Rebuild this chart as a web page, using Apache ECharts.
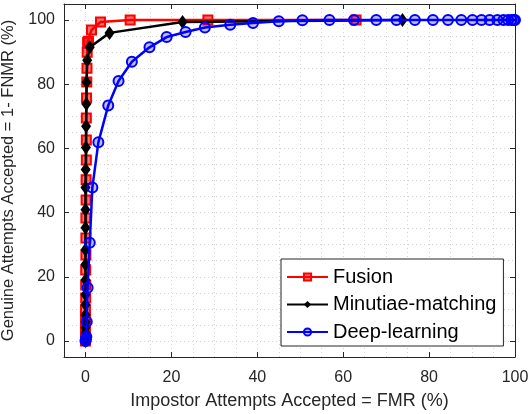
<!DOCTYPE html>
<html>
<head>
<meta charset="utf-8">
<script src="https://cdn.jsdelivr.net/npm/echarts@6/dist/echarts.min.js"></script>
<style>
  html, body { margin: 0; padding: 0; background: #fff; }
  #chart { width: 530px; height: 414px; }
</style>
</head>
<body>
<div id="chart"></div>
<script>
// data (FMR %, 1-FNMR %)
var fusionX = [0, 0, 0, 0, 0, 0.05, 0.05, 0.05, 0.1, 0.1, 0.1, 0.15, 0.15, 0.2, 0.2, 0.2, 0.25, 0.3, 0.35, 0.4, 0.5, 0.7, 1.4, 3.5, 10.4, 28.5, 63];
var fusionY = [0, 1.9, 4, 6.5, 9.7, 13.4, 17.4, 22.1, 26.8, 32.1, 38.3, 43.9, 50.2, 56.4, 62.6, 69.5, 75.7, 80.7, 85, 90, 93.1, 93.4, 96.9, 99.4, 100, 100, 100];

var minutiaeX = [0, 0, 0, 0, 0, 0, 0, 0, 0, 0, 0, 0, 0, 0, 0.05, 0.1, 0.15, 0.2, 0.25, 0.4, 1, 5.6, 22.6, 73.8];
var minutiaeY = [0, 1.3, 2.5, 4.1, 5.9, 8.1, 11.3, 14.4, 19, 23.8, 28.4, 35.3, 40.9, 47.8, 53.4, 60.3, 66.9, 73.8, 80.6, 87.5, 91.5, 96, 99.4, 100];

var deepX = [0, 0.1, 0.2, 0.3, 0.5, 1, 1.6, 3, 5.3, 7.7, 10.8, 14.9, 18.9, 23.3, 27.8, 33.7, 39, 45, 50.5, 56.8, 62.5, 67.7, 72.4, 76.7, 80.9, 84.4, 87.5, 90.1, 92.2, 94.1, 95.9, 97.3, 98.4, 99.2, 99.7, 100];
var deepY = [0, 0.5, 1.3, 6, 16.6, 30.6, 47.8, 61.9, 73.4, 81, 87, 91.5, 94.7, 96.3, 97.7, 98.5, 99.1, 99.6, 99.9, 100, 100, 100, 100, 100, 100, 100, 100, 100, 100, 100, 100, 100, 100, 100, 100, 100];

var xTicks = [0, 20, 40, 60, 80, 100];
var yTicks = [0, 20, 40, 60, 80, 100];

function pairs(xs, ys) {
  return xs.map(function (x, i) { return [x, ys[i]]; });
}

var font = "'Liberation Sans', Arial, Helvetica, sans-serif";
var axisColor = '#262626';
var xRange = { type: 'value', min: -5, max: 100, interval: 5 };
var yRange = { type: 'value', min: -5, max: 105, interval: 5 };

// box axis (ticks only at the labelled values, no grid)
function boxAxis(range, pos, ticks, extra) {
  return Object.assign({}, range, {
    position: pos,
    axisLine: { show: true, onZero: false, lineStyle: { color: axisColor, width: 1 } },
    axisTick: { show: true, inside: true, length: 5, customValues: ticks, lineStyle: { color: axisColor } },
    axisLabel: { show: false },
    splitLine: { show: false }
  }, extra || {});
}

// grid-only axis (dotted lines every 5)
function gridAxis(range, pos) {
  return Object.assign({}, range, {
    position: pos,
    axisLine: { show: false },
    axisTick: { show: false },
    axisLabel: { show: false },
    splitLine: { show: true, lineStyle: { color: '#d2d2d2', type: [1, 3], width: 1 } }
  });
}

var chart = echarts.init(document.getElementById('chart'));

chart.setOption({
  animation: false,
  backgroundColor: '#fff',
  grid: { left: 64, top: 4, width: 451, height: 353, outerBoundsMode: 'none', containLabel: false },
  xAxis: [
    boxAxis(xRange, 'bottom', xTicks, {
      name: 'Impostor Attempts Accepted = FMR (%)',
      nameLocation: 'middle', nameGap: 35,
      nameTextStyle: { fontFamily: font, fontSize: 18, color: axisColor },
      axisLabel: { show: true, customValues: xTicks, fontFamily: font, fontSize: 16, color: axisColor, margin: 13 }
    }),
    boxAxis(xRange, 'top', xTicks),
    gridAxis(xRange, 'bottom')
  ],
  yAxis: [
    boxAxis(yRange, 'left', yTicks, {
      name: 'Genuine Attempts Accepted = 1- FNMR (%)',
      nameLocation: 'middle', nameGap: 42,
      nameTextStyle: { fontFamily: font, fontSize: 16.5, color: axisColor },
      axisLabel: { show: true, customValues: yTicks, fontFamily: font, fontSize: 16, color: axisColor, margin: 9 }
    }),
    boxAxis(yRange, 'right', yTicks),
    gridAxis(yRange, 'left')
  ],
  legend: {
    orient: 'vertical',
    left: 281, top: 259,
    backgroundColor: '#fff',
    borderColor: axisColor, borderWidth: 1,
    padding: [8, 7, 4, 5],
    itemWidth: 41, itemHeight: 9, itemGap: 7.5,
    textStyle: { fontFamily: font, fontSize: 20, color: '#000', lineHeight: 20 },
    data: ['Fusion', 'Minutiae-matching', 'Deep-learning']
  },
  series: [{
    name: 'Fusion', type: 'line',
    data: pairs(fusionX, fusionY),
    symbol: 'rect', symbolSize: 9,
    lineStyle: { color: '#ff0000', width: 2.5 },
    itemStyle: { color: 'rgba(255,0,0,0.55)', borderColor: '#ff0000', borderWidth: 2 },
    z: 2
  }, {
    name: 'Minutiae-matching', type: 'line',
    data: pairs(minutiaeX, minutiaeY),
    symbol: 'diamond', symbolSize: [10, 14],
    lineStyle: { color: '#000', width: 2.5 },
    itemStyle: { color: '#000' },
    z: 3
  }, {
    name: 'Deep-learning', type: 'line',
    data: pairs(deepX, deepY),
    symbol: 'circle', symbolSize: 10,
    lineStyle: { color: '#0000ff', width: 2.5 },
    itemStyle: { color: 'rgba(0,0,255,0.25)', borderColor: '#0000ff', borderWidth: 2 },
    z: 4
  }]
});
</script>
</body>
</html>
